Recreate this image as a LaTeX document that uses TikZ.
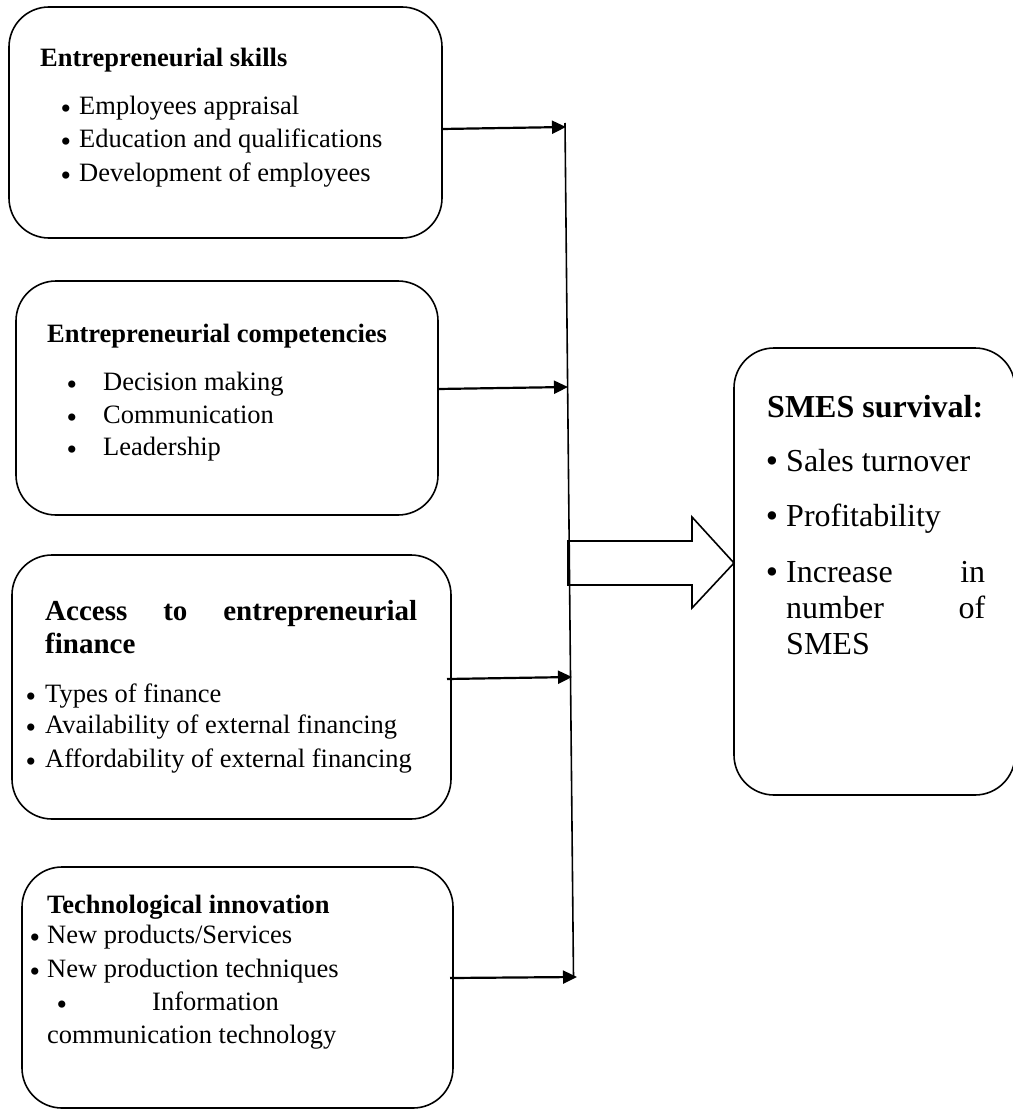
\documentclass[tikz,border=0pt]{standalone}
\usepackage{fontspec}
\setmainfont{Liberation Serif}
\usetikzlibrary{arrows.meta}
\newcommand{\mybul}{\raisebox{-4pt}{•}}
\newcommand{\mybigbul}{\raisebox{-1pt}{•}}
\begin{document}
\begin{tikzpicture}[x=1pt,y=-1pt,
  box/.style={draw, line width=1.6pt, rounded corners=40pt, anchor=north west, inner sep=0pt, outer sep=0pt},
  txt/.style={anchor=base west, inner sep=0pt, font=\fontsize{26.5}{32}\selectfont},
  ttl/.style={anchor=base west, inner sep=0pt, font=\fontsize{26.5}{32}\selectfont\bfseries},
  bul/.style={anchor=base, inner sep=0pt, font=\fontsize{30}{32}\selectfont},
  big/.style={anchor=base west, inner sep=0pt, font=\fontsize{32}{36}\selectfont},
  bigbul/.style={anchor=base, inner sep=0pt, font=\fontsize{35}{36}\selectfont},
  conn/.style={line width=2.2pt, -{Triangle[length=14pt,width=13pt]}},
  thin/.style={line width=1.6pt}
]
\useasboundingbox (0,0) rectangle (1012,1110);

% boxes
\node[box, minimum width=433pt, minimum height=231pt] (b1) at (9,7) {};
\node[box, minimum width=422pt, minimum height=234pt] (b2) at (16,281) {};
\node[box, minimum width=439pt, minimum height=264pt] (b3) at (12,555) {};
\node[box, minimum width=431pt, minimum height=241pt] (b4) at (22,867) {};
\node[box, minimum width=281pt, minimum height=447pt] (out) at (734,348) {};

% box 1
\node[ttl] (t1) at (40,67) {Entrepreneurial skills};
\node[bul] (b1a) at (66,115) {\mybul};
\node[txt] (l1a) at (79,115) {Employees appraisal};
\node[bul] (b1b) at (66,148) {\mybul};
\node[txt] (l1b) at (79,148) {Education and qualifications};
\node[bul] (b1c) at (66,182) {\mybul};
\node[txt] (l1c) at (79,182) {Development of employees};

% box 2
\node[ttl] (t2) at (47,342) {Entrepreneurial competencies};
\node[bul] (b2a) at (72,390) {\mybul};
\node[txt] (l2a) at (103,390) {Decision making};
\node[bul] (b2b) at (72,423) {\mybul};
\node[txt] (l2b) at (103,423) {Communication};
\node[bul] (b2c) at (72,455) {\mybul};
\node[txt] (l2c) at (103,455) {Leadership};

% box 3
\node[anchor=base west, inner sep=0pt, font=\fontsize{29}{33}\selectfont\bfseries] (t3a) at (45,620) {\hbox to 372pt{Access\hfill to\hfill entrepreneurial}};
\node[anchor=base west, inner sep=0pt, font=\fontsize{29}{33}\selectfont\bfseries] (t3b) at (45,653) {finance};
\node[bul] (b3a) at (31,702) {\mybul};
\node[txt] (l3a) at (45,702) {Types of finance};
\node[bul] (b3b) at (31,733) {\mybul};
\node[txt] (l3b) at (45,733) {Availability of external financing};
\node[bul] (b3c) at (31,767) {\mybul};
\node[txt] (l3c) at (45,767) {Affordability of external financing};

% box 4
\node[ttl] (t4) at (47,913) {Technological innovation};
\node[bul] (b4a) at (35,943) {\mybul};
\node[txt] (l4a) at (47,943) {New products/Services};
\node[bul] (b4b) at (35,977) {\mybul};
\node[txt] (l4b) at (47,977) {New production techniques};
\node[bul] (b4c) at (62,1010) {\mybul};
\node[txt] (l4c) at (152,1010) {Information};
\node[txt] (l4d) at (47,1043) {communication technology};

% output box
\node[anchor=base west, inner sep=0pt, font=\fontsize{32}{36}\selectfont\bfseries] (t5) at (767,417) {SMES survival:};
\node[bigbul] (b5a) at (772,471) {\mybigbul};
\node[big] (l5a) at (786,471) {Sales turnover};
\node[bigbul] (b5b) at (772,526) {\mybigbul};
\node[big] (l5b) at (786,526) {Profitability};
\node[bigbul] (b5c) at (772,582) {\mybigbul};
\node[big] (l5c) at (786,582) {\hbox to 199pt{Increase\hfill in}};
\node[big] (l5d) at (786,618) {\hbox to 199pt{number\hfill of}};
\node[big] (l5e) at (786,654) {SMES};

% collecting line
\coordinate (vtop) at (565,123);
\coordinate (vbot) at (573.5,978);
\draw[thin] (vtop) -- (vbot);

% arrows
\coordinate (s1) at (442,129); \coordinate (e1) at (566,127);
\coordinate (s2) at (438,389); \coordinate (e2) at (568,387);
\coordinate (s3) at (447,679); \coordinate (e3) at (572,677);
\coordinate (s4) at (450,978); \coordinate (e4) at (577,977);
\draw[conn] (s1) -- (e1);
\draw[conn] (s2) -- (e2);
\draw[conn] (s3) -- (e3);
\draw[conn] (s4) -- (e4);

% hollow block arrow
\draw[thin, line join=miter] (568,541) -- (692,541) -- (692,517) -- (out.west |- 0,563) -- (692,608) -- (692,585) -- (568,585) -- cycle;
\end{tikzpicture}
\end{document}
